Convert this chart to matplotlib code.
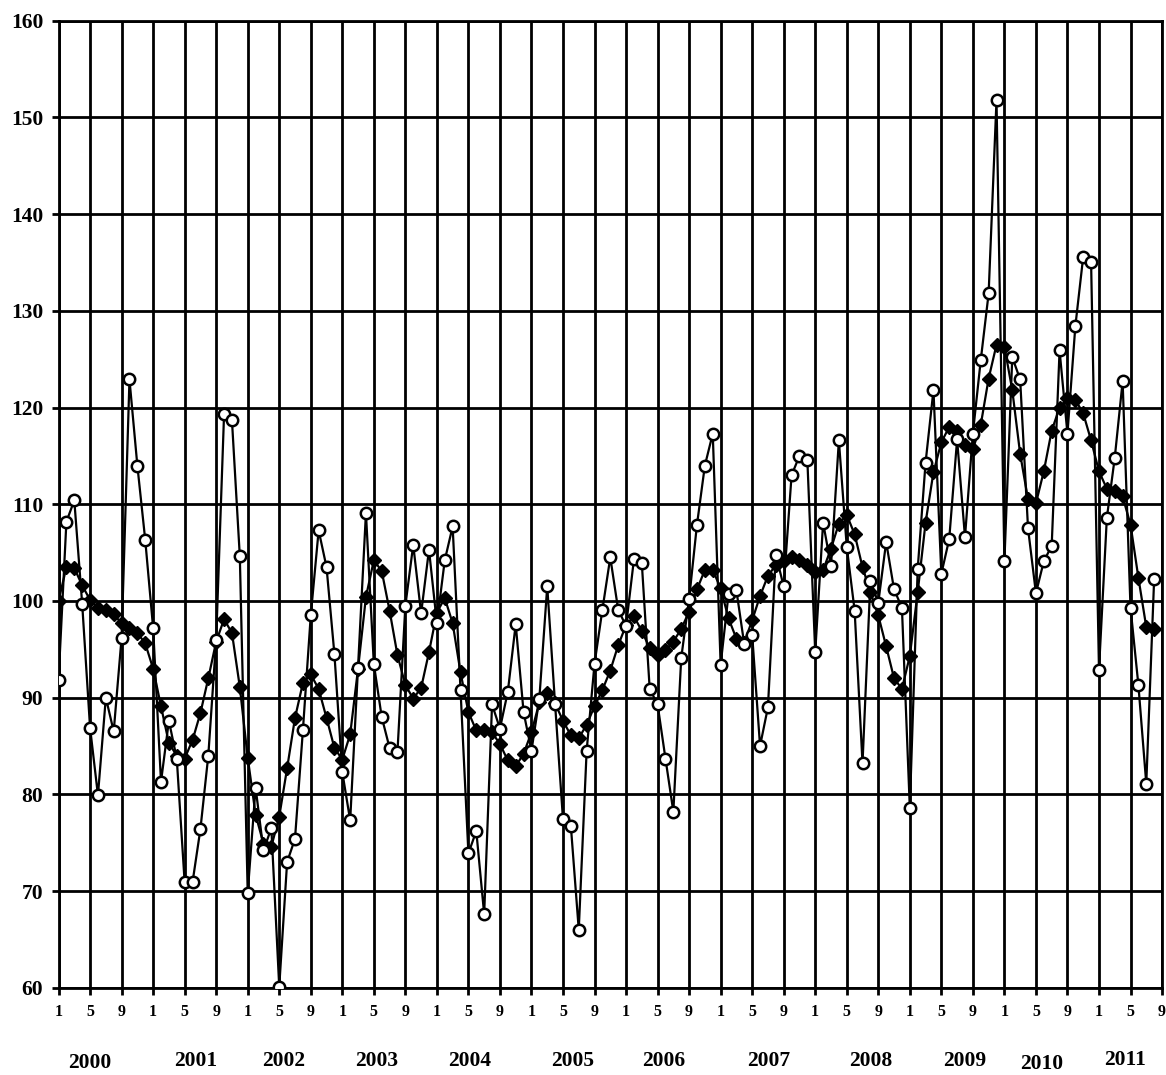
import numpy as np
import matplotlib
matplotlib.use("Agg")
import matplotlib.pyplot as plt
from matplotlib.transforms import blended_transform_factory

# ---- data: monthly index, Jan 2000 .. Aug 2011 ----
raw_index = [
    91.8, 108.2, 110.4, 99.7, 86.9, 79.9, 90.0, 86.5, 96.2, 122.9, 114.0, 106.3,   # 2000
    97.2, 81.3, 87.6, 83.7, 70.9, 70.9, 76.4, 84.0, 96.0, 119.3, 118.7, 104.6,     # 2001
    69.8, 80.7, 74.2, 76.5, 60.1, 73.0, 75.4, 86.6, 98.5, 107.3, 103.5, 94.5,      # 2002
    82.3, 77.3, 93.1, 109.1, 93.5, 88.0, 84.8, 84.4, 99.5, 105.8, 98.7, 105.3,     # 2003
    97.7, 104.2, 107.7, 90.8, 73.9, 76.2, 67.6, 89.3, 86.8, 90.6, 97.6, 88.5,      # 2004
    84.5, 89.9, 101.5, 89.3, 77.4, 76.7, 66.0, 84.5, 93.5, 99.1, 104.5, 99.1,      # 2005
    97.4, 104.3, 103.9, 90.9, 89.3, 83.7, 78.2, 94.1, 100.2, 107.9, 114.0, 117.3,  # 2006
    93.4, 100.7, 101.1, 95.5, 96.5, 85.0, 89.0, 104.8, 101.5, 113.0, 115.0, 114.6, # 2007
    94.7, 108.1, 103.6, 116.6, 105.6, 99.0, 83.2, 102.1, 99.8, 106.1, 101.2, 99.3, # 2008
    78.6, 103.3, 114.3, 121.8, 102.8, 106.4, 116.7, 106.6, 117.3, 124.9, 131.8, 151.8, # 2009
    104.1, 125.2, 122.9, 107.5, 100.8, 104.1, 105.7, 125.9, 117.3, 128.4, 135.6, 135.0, # 2010
    92.9, 108.6, 114.8, 122.7, 99.3, 91.3, 81.1, 102.3,                           # 2011
]
trend_index = [
    100.0, 103.5, 103.4, 101.6, 100.1, 99.3, 99.1, 98.6, 97.7, 97.2, 96.7, 95.6,
    93.0, 89.1, 85.3, 84.0, 83.7, 85.6, 88.4, 92.0, 95.8, 98.1, 96.7, 91.1,
    83.8, 77.9, 74.9, 74.6, 77.7, 82.7, 87.9, 91.5, 92.4, 90.9, 87.9, 84.8,
    83.6, 86.2, 93.0, 100.4, 104.2, 103.1, 99.0, 94.4, 91.3, 89.9, 91.0, 94.7,
    98.8, 100.3, 97.7, 92.6, 88.5, 86.6, 86.6, 86.4, 85.2, 83.5, 82.9, 84.2,
    86.4, 89.5, 90.5, 89.4, 87.6, 86.1, 85.8, 87.2, 89.1, 90.8, 92.8, 95.4,
    97.5, 98.4, 96.9, 95.1, 94.4, 94.9, 95.8, 97.1, 98.9, 101.2, 103.2, 103.2,
    101.3, 98.2, 96.1, 95.7, 98.0, 100.5, 102.6, 103.7, 104.1, 104.5, 104.2, 103.7,
    103.0, 103.2, 105.4, 108.0, 108.9, 106.9, 103.5, 100.9, 98.5, 95.3, 92.0, 90.9,
    94.3, 100.9, 108.1, 113.3, 116.4, 118.0, 117.6, 116.1, 115.7, 118.2, 123.0, 126.5,
    126.3, 121.8, 115.2, 110.5, 110.1, 113.4, 117.6, 120.0, 121.0, 120.8, 119.4, 116.6,
    113.4, 111.6, 111.4, 110.8, 107.9, 102.4, 97.3, 97.1,
]
years = ["2000", "2001", "2002", "2003", "2004", "2005", "2006",
         "2007", "2008", "2009", "2010", "2011"]
month_tick_labels = ["1", "5", "9"]
y_ticks = [60, 70, 80, 90, 100, 110, 120, 130, 140, 150, 160]
# label placement (month index / axes fraction) as in the original layout
year_label_x = [4.0, 17.4, 28.5, 40.4, 52.2, 65.2, 76.8, 90.1, 103.0, 114.9, 124.7, 135.3]
year_label_y = [-0.078, -0.076, -0.076, -0.076, -0.076, -0.076, -0.076,
                -0.076, -0.076, -0.076, -0.079, -0.075]

x = np.arange(len(raw_index))

fig = plt.figure(figsize=(11.66, 10.75), dpi=100)
ax = fig.add_axes([0.0502, 0.0812, 0.9464, 0.8995])

serif = ["Liberation Serif", "DejaVu Serif"]
lw_grid = 2.0

ax.plot(x, trend_index, color="black", lw=1.6, marker="D", ms=7.0,
        mfc="black", mec="black", mew=1.0, zorder=3)
ax.plot(x, raw_index, color="black", lw=1.6, marker="o", ms=8.2,
        mfc="white", mec="black", mew=1.8, zorder=4)

ax.set_xlim(0, 140)
ax.set_ylim(60, 160)
xt = np.arange(0, 141, 4)
ax.set_xticks(xt)
ax.set_xticklabels([month_tick_labels[i % 3] for i in range(len(xt))])
ax.set_yticks(y_ticks)
ax.set_yticklabels([str(v) for v in y_ticks])

ax.grid(True, color="black", lw=lw_grid)
ax.set_axisbelow(True)
for s in ax.spines.values():
    s.set_linewidth(lw_grid)
    s.set_color("black")

ax.tick_params(axis="x", direction="out", length=5, width=lw_grid, pad=7)
ax.tick_params(axis="y", direction="out", length=5, width=lw_grid, pad=6)
for lab in ax.get_xticklabels():
    lab.set_fontfamily(serif)
    lab.set_fontweight("bold")
    lab.set_fontsize(11.5)
for lab in ax.get_yticklabels():
    lab.set_fontfamily(serif)
    lab.set_fontweight("bold")
    lab.set_fontsize(15.5)

trans = blended_transform_factory(ax.transData, ax.transAxes)
for yr, xp, yp in zip(years, year_label_x, year_label_y):
    ax.text(xp, yp, yr, transform=trans, ha="center", va="center",
            fontsize=15.5, fontweight="bold", family=serif)

fig.savefig("out.png", dpi=100)
